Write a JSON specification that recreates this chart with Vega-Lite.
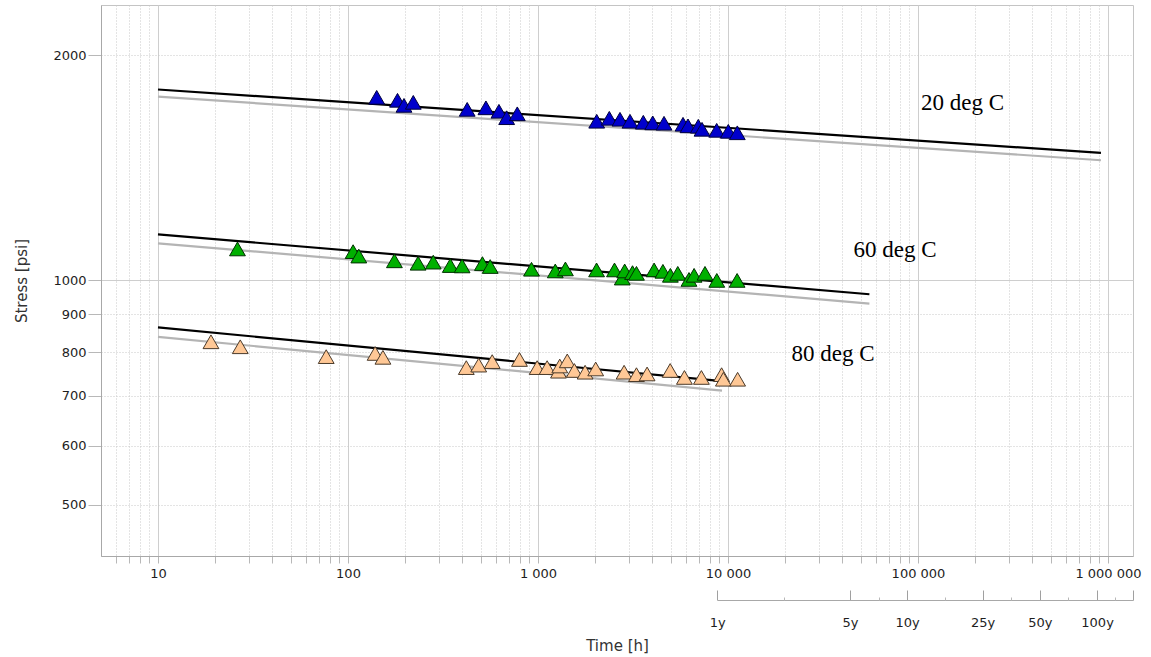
{
  "$schema": "https://vega.github.io/schema/vega-lite/v6.json",
  "width": 1032,
  "height": 551,
  "autosize": {"type": "none"},
  "padding": {"left": 101, "top": 5, "right": 18, "bottom": 101},
  "background": "white",
  "config": {
    "view": {"stroke": "#c4c4c4", "strokeWidth": 1},
    "axis": {
      "labelFont": "DejaVu Sans",
      "titleFont": "DejaVu Sans",
      "labelColor": "#1e1e1e",
      "titleColor": "#333333",
      "titleFontWeight": "normal",
      "domainColor": "#a8a8a8",
      "tickColor": "#b8b8b8"
    }
  },
  "datasets": {
    "lines": [
      {"series": "20", "kind": "low", "t": 10, "s": 1761},
      {"series": "20", "kind": "low", "t": 918000, "s": 1447},
      {"series": "60", "kind": "low", "t": 10, "s": 1120},
      {"series": "60", "kind": "low", "t": 55500, "s": 930},
      {"series": "80", "kind": "low", "t": 10, "s": 839},
      {"series": "80", "kind": "low", "t": 9300, "s": 711},
      {"series": "20", "kind": "fit", "t": 10, "s": 1800},
      {"series": "20", "kind": "fit", "t": 918000, "s": 1480},
      {"series": "60", "kind": "fit", "t": 10, "s": 1151},
      {"series": "60", "kind": "fit", "t": 55500, "s": 957},
      {"series": "80", "kind": "fit", "t": 10, "s": 864},
      {"series": "80", "kind": "fit", "t": 9300, "s": 732}
    ],
    "points": [
      {"series": "20", "t": 141.6, "s": 1757},
      {"series": "20", "t": 182.2, "s": 1741},
      {"series": "20", "t": 197.1, "s": 1714},
      {"series": "20", "t": 220.6, "s": 1730},
      {"series": "20", "t": 424, "s": 1693},
      {"series": "20", "t": 532, "s": 1701},
      {"series": "20", "t": 623, "s": 1683},
      {"series": "20", "t": 684, "s": 1650},
      {"series": "20", "t": 778, "s": 1670},
      {"series": "20", "t": 2037, "s": 1632},
      {"series": "20", "t": 2373, "s": 1647},
      {"series": "20", "t": 2701, "s": 1642},
      {"series": "20", "t": 3050, "s": 1632},
      {"series": "20", "t": 3583, "s": 1627},
      {"series": "20", "t": 4016, "s": 1624},
      {"series": "20", "t": 4606, "s": 1622},
      {"series": "20", "t": 5798, "s": 1617},
      {"series": "20", "t": 6159, "s": 1609},
      {"series": "20", "t": 6977, "s": 1607},
      {"series": "20", "t": 7299, "s": 1592},
      {"series": "20", "t": 8720, "s": 1587},
      {"series": "20", "t": 10037, "s": 1582},
      {"series": "20", "t": 11194, "s": 1575},
      {"series": "60", "t": 26.2, "s": 1100.6},
      {"series": "60", "t": 106.4, "s": 1091.5},
      {"series": "60", "t": 114, "s": 1076.7},
      {"series": "60", "t": 175.5, "s": 1061},
      {"series": "60", "t": 233.8, "s": 1053},
      {"series": "60", "t": 281, "s": 1056.7},
      {"series": "60", "t": 345.5, "s": 1045.7},
      {"series": "60", "t": 398.6, "s": 1044.4},
      {"series": "60", "t": 509.9, "s": 1052},
      {"series": "60", "t": 560.3, "s": 1042.5},
      {"series": "60", "t": 924.3, "s": 1033.8},
      {"series": "60", "t": 1233, "s": 1028.4},
      {"series": "60", "t": 1394, "s": 1034.8},
      {"series": "60", "t": 2034, "s": 1031.6},
      {"series": "60", "t": 2527, "s": 1031.6},
      {"series": "60", "t": 2777, "s": 1006},
      {"series": "60", "t": 2859, "s": 1028.4},
      {"series": "60", "t": 3144, "s": 1023.1},
      {"series": "60", "t": 3298, "s": 1020.8},
      {"series": "60", "t": 4085, "s": 1031.6},
      {"series": "60", "t": 4545, "s": 1027.2},
      {"series": "60", "t": 4975, "s": 1014.6},
      {"series": "60", "t": 5441, "s": 1020.8},
      {"series": "60", "t": 6233, "s": 1001.8},
      {"series": "60", "t": 6631, "s": 1014.6},
      {"series": "60", "t": 7567, "s": 1020.8},
      {"series": "60", "t": 8731, "s": 998.8},
      {"series": "60", "t": 11168, "s": 998.8},
      {"series": "80", "t": 19.0, "s": 826.5},
      {"series": "80", "t": 27.1, "s": 813.9},
      {"series": "80", "t": 76.8, "s": 789.5},
      {"series": "80", "t": 138.9, "s": 797.3},
      {"series": "80", "t": 152.7, "s": 787.8},
      {"series": "80", "t": 419.4, "s": 763.2},
      {"series": "80", "t": 487.5, "s": 769.1},
      {"series": "80", "t": 574.1, "s": 777.5},
      {"series": "80", "t": 799, "s": 782.6},
      {"series": "80", "t": 990, "s": 763.2},
      {"series": "80", "t": 1117, "s": 763.2},
      {"series": "80", "t": 1282, "s": 754.8},
      {"series": "80", "t": 1302, "s": 767},
      {"series": "80", "t": 1426, "s": 779.2},
      {"series": "80", "t": 1554, "s": 756.5},
      {"series": "80", "t": 1770, "s": 752.5},
      {"series": "80", "t": 2012, "s": 760},
      {"series": "80", "t": 2839, "s": 752.5},
      {"series": "80", "t": 3298, "s": 746.8},
      {"series": "80", "t": 3752, "s": 748.4},
      {"series": "80", "t": 4963, "s": 756.5},
      {"series": "80", "t": 5897, "s": 740.4},
      {"series": "80", "t": 7244, "s": 740.4},
      {"series": "80", "t": 9254, "s": 746.8},
      {"series": "80", "t": 9458, "s": 736.3},
      {"series": "80", "t": 11236, "s": 736.3}
    ],
    "labels": [
      {"t": 171500, "s": 1692, "label": "20 deg C"},
      {"t": 75670, "s": 1075, "label": "60 deg C"},
      {"t": 35690, "s": 780, "label": "80 deg C"}
    ],
    "years": [{"t": 8760}, {"t": 1353900}]
  },
  "layer": [
    {
      "encoding": {
        "x": {
          "field": "t",
          "type": "quantitative",
          "scale": {"type": "log", "domain": [5.012, 1353900], "nice": false, "zero": false},
          "axis": {
            "title": "Time [h]",
            "titleFontSize": 15,
            "titleY": 89,
            "titleBaseline": "middle",
            "values": [5, 6, 7, 8, 9, 10, 20, 30, 40, 50, 60, 70, 80, 90, 100, 200, 300, 400, 500, 600, 700, 800, 900, 1000, 2000, 3000, 4000, 5000, 6000, 7000, 8000, 9000, 10000, 20000, 30000, 40000, 50000, 60000, 70000, 80000, 90000, 100000, 200000, 300000, 400000, 500000, 600000, 700000, 800000, 900000, 1000000],
            "labelExpr": "indexof([10, 100, 1000, 10000, 100000, 1000000], datum.value) >= 0 ? replace(format(datum.value, ','), regexp(',', 'g'), ' ') : ''",
            "labelFontSize": 13,
            "labelPadding": 4,
            "labelOverlap": false,
            "labelFlush": false,
            "labelBound": false,
            "tickSize": 7,
            "grid": true,
            "gridColor": {"condition": {"test": "indexof([10, 100, 1000, 10000, 100000, 1000000], datum.value) >= 0", "value": "#cecece"}, "value": "#c8c8c8"},
            "gridDash": {"condition": {"test": "indexof([10, 100, 1000, 10000, 100000, 1000000], datum.value) >= 0", "value": []}, "value": [1, 2]}
          }
        },
        "y": {
          "field": "s",
          "type": "quantitative",
          "scale": {"type": "log", "domain": [426.8, 2336], "nice": false, "zero": false},
          "axis": {
            "title": "Stress [psi]",
            "titleFontSize": 15,
            "titleX": -80,
            "titleBaseline": "middle",
            "values": [500, 600, 700, 800, 900, 1000, 2000],
            "format": "d",
            "labelFontSize": 13,
            "labelPadding": 2,
            "tickSize": 13,
            "labelOverlap": false,
            "labelBound": false,
            "labelFlush": false,
            "grid": true,
            "gridColor": {"condition": {"test": "datum.value == 1000", "value": "#cecece"}, "value": "#c8c8c8"},
            "gridDash": {"condition": {"test": "datum.value == 1000", "value": []}, "value": [1, 2]}
          }
        }
      },
      "layer": [
        {
          "data": {"name": "lines"},
          "mark": {"type": "line", "strokeWidth": 2.2},
          "encoding": {
            "detail": {"field": "series"},
            "color": {"field": "kind", "type": "nominal", "scale": {"domain": ["low", "fit"], "range": ["#b4b4b4", "#000000"]}, "legend": null},
            "order": {"field": "kind"}
          }
        },
        {
          "data": {"name": "points"},
          "mark": {"type": "point", "shape": "triangle-up", "filled": true, "size": 250, "strokeWidth": 1, "opacity": 1},
          "encoding": {
            "fill": {"field": "series", "type": "nominal", "scale": {"domain": ["20", "60", "80"], "range": ["#0000cc", "#00b000", "#ffc896"]}, "legend": null},
            "stroke": {"field": "series", "type": "nominal", "scale": {"domain": ["20", "60", "80"], "range": ["#00003c", "#003000", "#4a3a2a"]}, "legend": null}
          }
        },
        {
          "data": {"name": "labels"},
          "mark": {"type": "text", "font": "Liberation Serif", "fontSize": 23, "align": "center", "baseline": "alphabetic", "color": "#000000"},
          "encoding": {"text": {"field": "label"}}
        }
      ]
    },
    {
      "data": {"name": "years"},
      "mark": {"type": "point", "opacity": 0},
      "encoding": {
        "x": {
          "field": "t",
          "type": "quantitative",
          "scale": {"type": "log", "domain": [8760, 1353900], "range": [616.14, 1032], "nice": false, "zero": false},
          "axis": {
            "orient": "bottom",
            "offset": 44,
            "title": null,
            "grid": false,
            "values": [8760, 43800, 87600, 219000, 438000, 876000, 1353900],
            "labelExpr": "datum.value > 1000000 ? '' : format(datum.value / 8760, 'd') + 'y'",
            "labelFontSize": 13,
            "labelOverlap": false,
            "labelFlush": false,
            "labelBound": false,
            "tickSize": -10,
            "tickWidth": 1,
            "labelPadding": 26,
            "domainColor": "#a8a8a8",
            "tickColor": "#a0a0a0"
          }
        }
      }
    },
    {
      "data": {"name": "years"},
      "mark": {"type": "point", "opacity": 0},
      "encoding": {
        "x": {
          "field": "t",
          "type": "quantitative",
          "scale": {"type": "log", "domain": [8760, 1353900], "range": [616.14, 1032], "nice": false, "zero": false},
          "axis": {
            "orient": "bottom",
            "offset": 44,
            "title": null,
            "grid": false,
            "domain": false,
            "labels": false,
            "values": [19588, 61941, 138510, 309713, 619426, 1089000],
            "tickSize": -3,
            "tickColor": "#b8b8b8"
          }
        }
      }
    }
  ],
  "resolve": {"scale": {"x": "independent"}}
}
